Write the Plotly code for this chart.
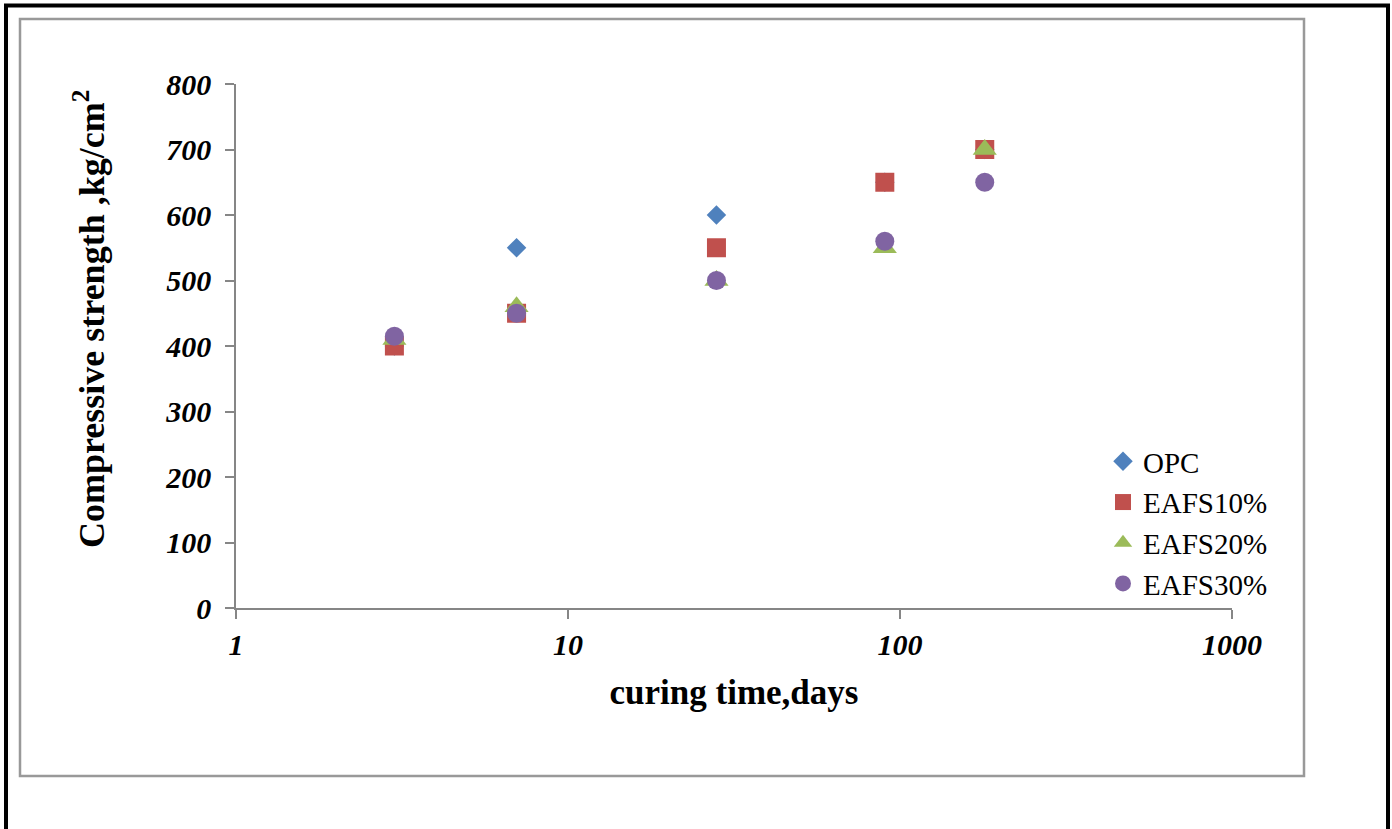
import plotly.graph_objects as go

# Curing ages (days) and compressive strength (kg/cm2) per mix
curing_days = [3, 7, 28, 90, 180]
opc = [400, 550, 600, 650, 700]
eafs10 = [400, 450, 550, 650, 700]
eafs20 = [410, 460, 500, 550, 700]
eafs30 = [415, 450, 500, 560, 650]

series_names = ["OPC", "EAFS10%", "EAFS20%", "EAFS30%"]
x_tick_vals = [1, 10, 100, 1000]
x_tick_text = ["1", "10", "100", "1000"]

W, H = 1392, 829
L, R, T, B = 236, 1232, 84, 608  # plot-area edges in pixels


def px(x):
    return (x - L) / (R - L)


def py(y):
    return (B - y) / (B - T)


FONT = "Liberation Serif"
AXIS_GRAY = "#868686"

styles = [
    dict(symbol="diamond", color="#4F81BD", size=15),
    dict(symbol="square", color="#C0504D", size=19),
    dict(symbol="triangle-up", color="#9BBB59", size=21),
    dict(symbol="circle", color="#8064A2", size=19),
]

fig = go.Figure()
for name, vals, st in zip(series_names, [opc, eafs10, eafs20, eafs30], styles):
    fig.add_trace(go.Scatter(
        x=curing_days, y=vals, mode="markers", name=name,
        marker=dict(symbol=st["symbol"], color=st["color"], size=st["size"],
                    line=dict(width=0)),
    ))

fig.update_layout(
    width=W, height=H,
    margin=dict(l=L, r=W - R, t=T, b=H - B, pad=0),
    paper_bgcolor="white", plot_bgcolor="white",
    font=dict(family=FONT, color="black"),
    showlegend=True,
    legend=dict(
        x=px(1103), y=py(436), xanchor="left", yanchor="top",
        font=dict(family=FONT, size=29, color="black"),
        bgcolor="rgba(0,0,0,0)", itemsizing="trace",
    ),
    xaxis=dict(
        type="log", range=[0, 3],
        tickmode="array", tickvals=x_tick_vals, ticktext=x_tick_text,
        showgrid=False, zeroline=False,
        showline=True, linecolor=AXIS_GRAY, linewidth=1.5,
        ticks="outside", ticklen=9, tickcolor=AXIS_GRAY, tickwidth=1.5,
        tickfont=dict(family=FONT, size=30, color="black", weight="bold", style="italic"),
        title=dict(text="<b>curing time,days</b>",
                   font=dict(family=FONT, size=35, color="black"), standoff=20),
    ),
    yaxis=dict(
        range=[0, 800], dtick=100, tick0=0,
        showgrid=False, zeroline=False,
        showline=True, linecolor=AXIS_GRAY, linewidth=1.5,
        ticks="outside", ticklen=9, tickcolor=AXIS_GRAY, tickwidth=1.5,
        tickfont=dict(family=FONT, size=30, color="black", weight="bold", style="italic"),
        ticklabelstandoff=8,
    ),
    annotations=[
        dict(text="<b>Compressive strength ,kg/cm<sup>2</sup></b>",
             xref="paper", yref="paper", x=px(89), y=py(319),
             xanchor="center", yanchor="middle", textangle=-90, showarrow=False,
             font=dict(family=FONT, size=36, color="black")),
    ],
    shapes=[
        # chart-area frame
        dict(type="rect", xref="paper", yref="paper",
             x0=px(20), x1=px(1304), y0=py(19), y1=py(776),
             line=dict(color="#999999", width=2.5), fillcolor="rgba(0,0,0,0)"),
        # outer page border (top, left, right)
        dict(type="line", xref="paper", yref="paper",
             x0=px(4), x1=px(1390), y0=py(5.5), y1=py(5.5),
             line=dict(color="black", width=4)),
        dict(type="line", xref="paper", yref="paper",
             x0=px(6), x1=px(6), y0=py(4), y1=py(829),
             line=dict(color="black", width=4)),
        dict(type="line", xref="paper", yref="paper",
             x0=px(1388), x1=px(1388), y0=py(4), y1=py(829),
             line=dict(color="black", width=4)),
    ],
)

fig.write_html("out.html")
